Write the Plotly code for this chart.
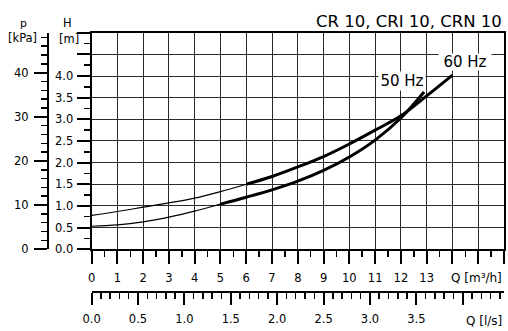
import plotly.graph_objects as go

# ---- data ----
q_50hz = [0, 1, 2, 3, 4, 5, 6, 7, 8, 9, 10, 11, 12, 12.9]          # m3/h
h_50hz = [0.53, 0.56, 0.63, 0.74, 0.88, 1.04, 1.20, 1.37, 1.57, 1.82, 2.13, 2.52, 3.03, 3.63]  # m
q_60hz = [0, 1, 2, 3, 4, 5, 6, 7, 8, 9, 10, 11, 12, 13, 14]
h_60hz = [0.78, 0.87, 0.97, 1.07, 1.18, 1.33, 1.50, 1.68, 1.90, 2.14, 2.43, 2.75, 3.08, 3.54, 4.02]
thick_from_50 = 5.0   # start of the operating (bold) range, m3/h
thick_from_60 = 6.0

q_ticks = list(range(0, 17))
q_ticklabels = [str(v) if v <= 13 else "" for v in q_ticks]
ls_ticks = [0.0, 0.5, 1.0, 1.5, 2.0, 2.5, 3.0, 3.5, 4.0]
ls_ticklabels = [f"{v:.1f}" if v <= 3.5 else "" for v in ls_ticks]
h_ticks = [0.0, 0.5, 1.0, 1.5, 2.0, 2.5, 3.0, 3.5, 4.0, 4.5, 5.0]
h_ticklabels = [f"{v:.1f}" if v <= 4.0 else "" for v in h_ticks]
p_ticks = [0, 10, 20, 30, 40]
p_ticklabels = [str(v) for v in p_ticks]

Q_MAX = 16.0
H_MAX = 5.0
KPA_PER_M = 9.81
M3H_PER_LS = 3.6

# ---- geometry (pixels) ----
W, HGT = 508, 331
ML, MR, MT, MB = 48, 2, 10, 39
PW = W - ML - MR
PH = HGT - MT - MB


def px_x(x):
    return (x - ML) / PW


def px_y(y):
    return (HGT - MB - y) / PH


FONT = "DejaVu Sans"

fig = go.Figure()

for q, h, t in [(q_50hz, h_50hz, thick_from_50), (q_60hz, h_60hz, thick_from_60)]:
    fig.add_trace(go.Scatter(x=q, y=h, mode="lines",
                             line=dict(color="black", width=1.2, shape="spline"),
                             hoverinfo="skip", showlegend=False))
    qt = [a for a in q if a >= t]
    ht = [b for a, b in zip(q, h) if a >= t]
    fig.add_trace(go.Scatter(x=qt, y=ht, mode="lines",
                             line=dict(color="black", width=3, shape="spline"),
                             hoverinfo="skip", showlegend=False))

# invisible traces to activate secondary axes
fig.add_trace(go.Scatter(x=[0], y=[0], xaxis="x2", yaxis="y", mode="markers",
                         marker=dict(opacity=0), hoverinfo="skip", showlegend=False))
fig.add_trace(go.Scatter(x=[0], y=[0], xaxis="x", yaxis="y2", mode="markers",
                         marker=dict(opacity=0), hoverinfo="skip", showlegend=False))

tickfont = dict(family=FONT, size=11.5, color="black")

fig.update_layout(
    width=W, height=HGT,
    margin=dict(l=ML, r=MR, t=MT, b=MB, pad=0),
    paper_bgcolor="white", plot_bgcolor="white",
    showlegend=False,
    xaxis=dict(
        domain=[px_x(91.8), 1.0], range=[0, Q_MAX],
        tickmode="array", tickvals=q_ticks, ticktext=q_ticklabels,
        ticks="outside", ticklen=13, tickwidth=2, tickcolor="black",
        ticklabelstandoff=4,
        minor=dict(tickmode="linear", tick0=0, dtick=0.5, ticks="outside",
                   ticklen=6, tickwidth=1.5, tickcolor="black", showgrid=False),
        showgrid=True, gridcolor="#2a2a2a", gridwidth=1,
        showline=True, linecolor="black", linewidth=2, mirror=True,
        zeroline=False, tickfont=tickfont, fixedrange=True,
    ),
    xaxis2=dict(
        overlaying="x", anchor="free", position=0, side="bottom",
        range=[0, Q_MAX / M3H_PER_LS],
        tickmode="array", tickvals=ls_ticks, ticktext=ls_ticklabels,
        ticks="outside", ticklen=12, tickwidth=2, tickcolor="black",
        ticklabelstandoff=4,
        minor=dict(tickmode="linear", tick0=0, dtick=0.1, ticks="outside",
                   ticklen=6, tickwidth=1.5, tickcolor="black", showgrid=False),
        showgrid=False, showline=True, linecolor="black", linewidth=2,
        zeroline=False, tickfont=tickfont, fixedrange=True,
    ),
    yaxis=dict(
        domain=[px_y(249.2), px_y(32.7)], range=[0, H_MAX],
        tickmode="array", tickvals=h_ticks, ticktext=h_ticklabels,
        ticks="outside", ticklen=13, tickwidth=2, tickcolor="black",
        ticklabelstandoff=1,
        minor=dict(tickmode="linear", tick0=0, dtick=0.25, ticks="outside",
                   ticklen=6, tickwidth=1.5, tickcolor="black", showgrid=False),
        showgrid=True, gridcolor="#2a2a2a", gridwidth=1,
        showline=True, linecolor="black", linewidth=2, mirror=True,
        zeroline=False, tickfont=tickfont, fixedrange=True,
    ),
    yaxis2=dict(
        overlaying="y", anchor="free", position=0, side="left",
        range=[0, H_MAX * KPA_PER_M],
        tickmode="array", tickvals=p_ticks, ticktext=p_ticklabels,
        ticks="outside", ticklen=13, tickwidth=2, tickcolor="black",
        ticklabelstandoff=3,
        minor=dict(tickmode="linear", tick0=0, dtick=2, ticks="outside",
                   ticklen=6, tickwidth=1.5, tickcolor="black", showgrid=False),
        showgrid=False, showline=True, linecolor="black", linewidth=2,
        zeroline=False, tickfont=tickfont, fixedrange=True,
    ),
)

ann = []


def text(x, y, s, size, xanchor="center", **kw):
    ann.append(dict(x=px_x(x), y=px_y(y), xref="paper", yref="paper", text=s,
                    showarrow=False, xanchor=xanchor, yanchor="middle",
                    font=dict(family=FONT, size=size, color="black"), **kw))


text(506, 21, "CR 10, CRI 10, CRN 10", 16.5, xanchor="right")
text(23.5, 23, "p", 11)
text(22.5, 38, "[kPa]", 11.5)
text(68, 23, "H", 11.5)
text(69, 38.5, "[m]", 11.5)
text(506, 278, "Q [m³/h]", 12, xanchor="right")
text(506, 321, "Q [l/s]", 12, xanchor="right")
text(404, 81, "50 Hz", 15, bgcolor="white", width=46, height=18, borderpad=0)
text(467, 62, "60 Hz", 15, bgcolor="white", width=52, height=16, borderpad=0)

fig.update_layout(annotations=ann)

fig.write_html(
    "out.html",
    config={"displayModeBar": False, "staticPlot": True},
    post_script="document.body.style.margin='0px';document.body.style.overflow='hidden';",
)
